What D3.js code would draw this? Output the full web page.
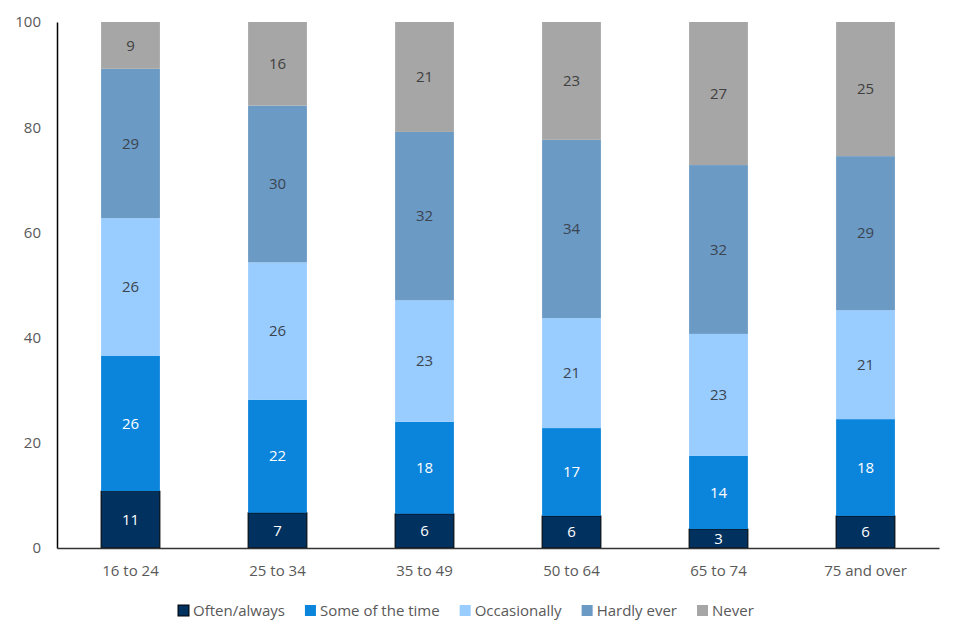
<!DOCTYPE html>
<html>
<head>
<meta charset="utf-8">
<script src="https://cdn.jsdelivr.net/npm/d3@7"></script>
<style>
  body { margin: 0; background: #fff; font-family: "Open Sans", "Liberation Sans", sans-serif; }
  svg text { font-family: "Open Sans", "Liberation Sans", sans-serif; }
</style>
</head>
<body>
<svg id="chart" width="960" height="640"></svg>
<script>
// age groups on the x axis
var categories = ["16 to 24", "25 to 34", "35 to 49", "50 to 64", "65 to 74", "75 and over"];
var seriesNames = ["Often/always", "Some of the time", "Occasionally", "Hardly ever", "Never"];
// percentages, one array per series
var oftenAlways = [10.8, 6.7, 6.5, 6.1, 3.6, 6.1];
var someOfTheTime = [25.7, 21.5, 17.5, 16.7, 13.9, 18.4];
var occasionally = [26.2, 26.1, 23.1, 20.9, 23.2, 20.7];
var hardlyEver = [28.4, 29.8, 32.0, 33.9, 32.1, 29.3];
var never = [8.9, 16.0, 20.9, 22.4, 27.2, 25.5];
// printed labels
var labelValues = [
  [11, 7, 6, 6, 3, 6],
  [26, 22, 18, 17, 14, 18],
  [26, 26, 23, 21, 23, 21],
  [29, 30, 32, 34, 32, 29],
  [9, 16, 21, 23, 27, 25]
];
var yTicks = [0, 20, 40, 60, 80, 100];

var colors = ["#00315f", "#0b84db", "#99ccff", "#6b9ac4", "#a6a6a6"];
var labelColors = ["#ffffff", "#ffffff", "#3b4450", "#3b4450", "#404040"];

var allSeries = [oftenAlways, someOfTheTime, occasionally, hardlyEver, never];
var rows = categories.map(function (c, i) {
  var r = { cat: c };
  seriesNames.forEach(function (s, j) { r[s] = allSeries[j][i]; });
  return r;
});

var margin = { left: 57, right: 21, top: 22, bottom: 92 };
var W = 960, H = 640;
var svg = d3.select("#chart");

var x = d3.scaleBand().domain(categories)
  .range([margin.left, W - margin.right]).paddingInner(0.6).paddingOuter(0.3);
var y = d3.scaleLinear().domain([0, 100]).range([H - margin.bottom, margin.top]);

var stack = d3.stack().keys(seriesNames);
var layers = stack(rows);

var g = svg.append("g");
layers.forEach(function (layer, j) {
  var lg = g.append("g");
  lg.selectAll("rect").data(layer).enter().append("rect")
    .attr("x", function (d) { return x(d.data.cat); })
    .attr("width", x.bandwidth())
    .attr("y", function (d) { return y(Math.min(d[1], 100)); })
    .attr("height", function (d) { return y(d[0]) - y(Math.min(d[1], 100)); })
    .attr("fill", colors[j])
    .attr("stroke", j === 0 ? "#000" : "none")
    .attr("stroke-width", j === 0 ? 1 : 0);
  lg.selectAll("text").data(layer).enter().append("text")
    .attr("x", function (d) { return x(d.data.cat) + x.bandwidth() / 2; })
    .attr("y", function (d) { return (y(d[0]) + y(Math.min(d[1], 100))) / 2; })
    .attr("dy", "0.35em")
    .attr("text-anchor", "middle")
    .attr("font-size", 15)
    .attr("fill", labelColors[j])
    .text(function (d, i) { return labelValues[j][i]; });
});

// y axis
var yAxis = svg.append("g")
  .attr("transform", "translate(" + margin.left + ",0)")
  .call(d3.axisLeft(y).tickValues(yTicks).tickSize(0).tickPadding(16));
yAxis.select(".domain").attr("stroke", "#000").attr("stroke-width", 1.5);
yAxis.selectAll("text").attr("font-size", 15).attr("fill", "#595959");

// x axis
var xAxis = svg.append("g")
  .attr("transform", "translate(0," + y(0) + ")")
  .call(d3.axisBottom(x).tickSize(0).tickPadding(17));
xAxis.select(".domain").attr("stroke", "#333").attr("stroke-width", 1.5);
xAxis.selectAll("text").attr("font-size", 15).attr("fill", "#595959");

// legend
var legend = svg.append("g").attr("transform", "translate(0,611)");
var lx = 178;
seriesNames.forEach(function (s, j) {
  var item = legend.append("g").attr("transform", "translate(" + lx + ",0)");
  item.append("rect").attr("x", 0).attr("y", -6).attr("width", 11).attr("height", 11)
    .attr("fill", colors[j]).attr("stroke", j === 0 ? "#000" : "none");
  var t = item.append("text").attr("x", 15).attr("y", 0).attr("dy", "0.35em")
    .attr("font-size", 15).attr("fill", "#595959").text(s);
  lx += 15 + t.node().getComputedTextLength() + 20;
});
</script>
</body>
</html>
